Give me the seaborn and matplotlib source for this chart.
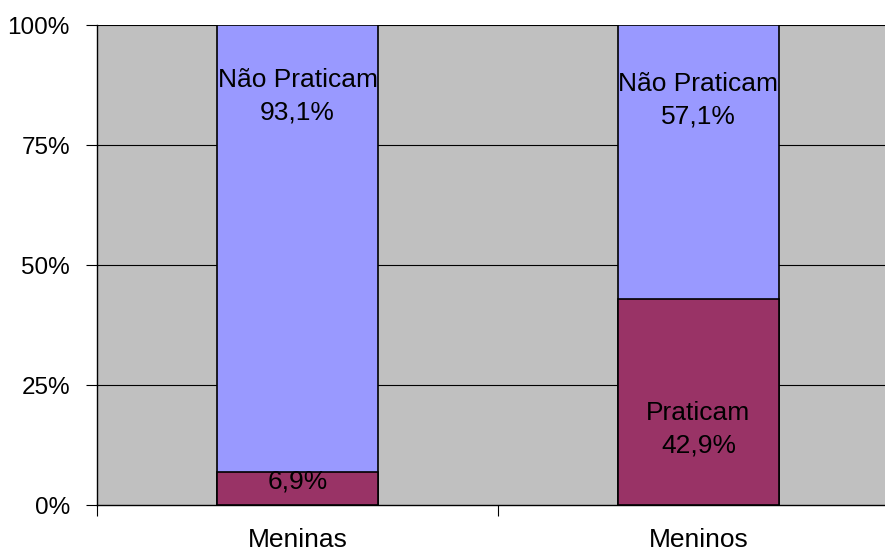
import matplotlib
matplotlib.use("Agg")
import matplotlib.pyplot as plt
import seaborn as sns
import pandas as pd
from matplotlib.ticker import FixedLocator, FuncFormatter

categories = ["Meninas", "Meninos"]
praticam = [6.9, 42.9]
nao_praticam = [93.1, 57.1]
series_names = ["Praticam", "Não Praticam"]
y_ticks = [0, 25, 50, 75, 100]

sns.set_theme(style="white")
plt.rcParams["font.family"] = ["Liberation Sans", "DejaVu Sans"]

fig = plt.figure(figsize=(8.85, 5.52), dpi=100)
ax = fig.add_axes([97 / 885, 47 / 552, 802 / 885, 480 / 552])
ax.set_facecolor("#C0C0C0")

df = pd.DataFrame({"cat": categories,
                   "total": [p + n for p, n in zip(praticam, nao_praticam)],
                   "pr": praticam})

sns.barplot(data=df, x="cat", y="total", color="#9999FF", width=0.403,
            edgecolor="black", linewidth=1.2, saturation=1, ax=ax, zorder=3)
sns.barplot(data=df, x="cat", y="pr", color="#993366", width=0.403,
            edgecolor="black", linewidth=1.2, saturation=1, ax=ax, zorder=4)

ax.set_xlim(-0.5, 1.5)
ax.set_ylim(0, 100)
ax.set_xlabel("")
ax.set_ylabel("")

for y in y_ticks[1:]:
    ax.axhline(y, color="black", linewidth=0.8, zorder=1)

ax.yaxis.set_major_locator(FixedLocator(y_ticks))
ax.yaxis.set_major_formatter(FuncFormatter(lambda v, p: f"{int(v)}%"))
ax.tick_params(axis="y", which="major", left=True, length=8, width=0.8,
               color="black", labelsize=17.5, pad=11.5, labelcolor="black")

ax.xaxis.set_major_locator(FixedLocator([-0.5, 0.5, 1.5]))
ax.xaxis.set_major_formatter(FuncFormatter(lambda v, p: ""))
ax.xaxis.set_minor_locator(FixedLocator([0, 1]))
ax.xaxis.set_minor_formatter(FuncFormatter(lambda v, p: categories[int(round(v))]))
ax.tick_params(axis="x", which="major", bottom=True, length=8, width=0.8, color="black")
ax.tick_params(axis="x", which="minor", bottom=False, length=0, labelsize=19,
               pad=16.5, labelcolor="black")

for side in ["top", "right"]:
    ax.spines[side].set_visible(False)
ax.spines["left"].set_color("black")
ax.spines["left"].set_linewidth(1.0)
ax.spines["bottom"].set_color("black")
ax.spines["bottom"].set_linewidth(1.0)

# Labels
top_label_y = [85.2, 84.3]
bottom_label_y = [4.8, 15.8]
bottom_show_name = [False, True]
for i in range(len(categories)):
    ax.text(i, top_label_y[i], f"{series_names[1]}\n{nao_praticam[i]:.1f}%".replace(".", ","),
            ha="center", va="center", fontsize=19, color="black",
            linespacing=1.42, zorder=6)
    txt = f"{praticam[i]:.1f}%".replace(".", ",")
    if bottom_show_name[i]:
        txt = f"{series_names[0]}\n{txt}"
    ax.text(i, bottom_label_y[i], txt, ha="center", va="center", fontsize=19,
            color="black", linespacing=1.42, zorder=6)

fig.savefig("out.png", dpi=100)
